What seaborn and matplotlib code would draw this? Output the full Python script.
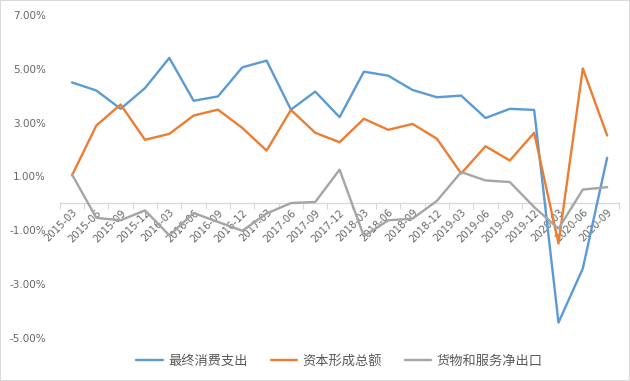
import matplotlib
matplotlib.use("Agg")
import matplotlib.pyplot as plt
import seaborn as sns
import pandas as pd
from matplotlib.ticker import FuncFormatter, FixedLocator

quarters = ["2015-03", "2015-06", "2015-09", "2015-12", "2016-03", "2016-06",
            "2016-09", "2016-12", "2017-03", "2017-06", "2017-09", "2017-12",
            "2018-03", "2018-06", "2018-09", "2018-12", "2019-03", "2019-06",
            "2019-09", "2019-12", "2020-03", "2020-06", "2020-09"]
consumption = [4.49, 4.19, 3.51, 4.28, 5.40, 3.81, 3.97, 5.05, 5.30, 3.48, 4.15, 3.20,
               4.89, 4.74, 4.21, 3.94, 4.00, 3.17, 3.51, 3.47, -4.43, -2.42, 1.69]
capital = [1.04, 2.89, 3.67, 2.36, 2.58, 3.26, 3.48, 2.80, 1.96, 3.47, 2.62, 2.27,
           3.14, 2.73, 2.95, 2.40, 1.11, 2.12, 1.59, 2.62, -1.49, 5.01, 2.52]
net_export = [1.07, -0.54, -0.63, -0.26, -1.19, -0.36, -0.69, -1.02, -0.38, 0.01, 0.05, 1.25,
              -1.22, -0.63, -0.57, 0.09, 1.16, 0.85, 0.79, -0.14, -0.94, 0.51, 0.60]
series_names = ["最终消费支出", "资本形成总额", "货物和服务净出口"]
colors = ["#5B9BD5", "#ED7D31", "#A5A5A5"]
y_ticks = [-5, -3, -1, 1, 3, 5, 7]

df = pd.DataFrame({"quarter": quarters,
                   series_names[0]: consumption,
                   series_names[1]: capital,
                   series_names[2]: net_export})
long = df.melt(id_vars="quarter", var_name="series", value_name="value")

sns.set_theme(style="white")
plt.rcParams["font.family"] = ["DejaVu Sans", "Noto Sans CJK SC"]

fig = plt.figure(figsize=(6.3, 3.81), dpi=100)
fig.patch.set_edgecolor("#D9D9D9")
fig.patch.set_linewidth(1.2)
ax = fig.add_axes([0.095, 0.113, 0.888, 0.848])

sns.lineplot(data=long, x="quarter", y="value", hue="series", hue_order=series_names,
             palette=colors, sort=False, linewidth=1.7, ax=ax, legend=True)

ax.set_xlim(-0.5, len(quarters) - 0.5)
ax.set_ylim(-5, 7)
ax.yaxis.set_major_locator(FixedLocator(y_ticks))
ax.yaxis.set_major_formatter(FuncFormatter(lambda v, p: f"{v:.2f}%"))
ax.set_xlabel("")
ax.set_ylabel("")

for s in ["top", "right", "left"]:
    ax.spines[s].set_visible(False)
ax.spines["bottom"].set_position(("data", 0))
ax.spines["bottom"].set_color("#D9D9D9")
ax.spines["bottom"].set_linewidth(1.0)
ax.spines["bottom"].set_zorder(0)

ax.set_xticks(range(len(quarters)))
ax.set_xticklabels(quarters, rotation=45, ha="right", rotation_mode="anchor",
                   fontsize=7.2, color="#666666")
ax.set_xticks([i - 0.5 for i in range(len(quarters) + 1)], minor=True)
ax.tick_params(axis="x", which="major", length=0, pad=3)
ax.tick_params(axis="x", which="minor", length=4, width=0.8, color="#D9D9D9",
               direction="out", bottom=True)
ax.tick_params(axis="y", length=0, labelsize=7.5, labelcolor="#666666", pad=10)

handles, labels = ax.get_legend_handles_labels()
ax.legend(handles, labels, loc="lower center", bbox_to_anchor=(0.5, -0.13),
          ncol=3, frameon=False, handlelength=2.0, columnspacing=1.75,
          handletextpad=0.4, labelcolor="#595959",
          prop={"family": ["Noto Sans CJK SC", "DejaVu Sans"], "size": 9.5})

fig.savefig("out.png", dpi=100)
